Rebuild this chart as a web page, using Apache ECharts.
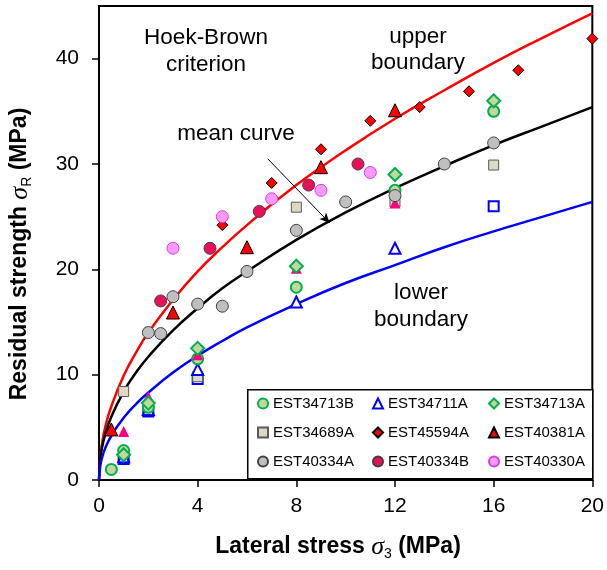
<!DOCTYPE html>
<html>
<head>
<meta charset="utf-8">
<script src="https://cdn.jsdelivr.net/npm/echarts@6/dist/echarts.min.js"></script>
<style>
  html, body { margin: 0; padding: 0; background: #fff; }
  #chart { width: 607px; height: 570px; }
</style>
</head>
<body>
<div id="chart"></div>
<script>
// Hoek-Brown boundary curves
const curveX = [0, 0.05, 0.1, 0.25, 0.5, 1, 1.5, 2, 3, 4, 5, 6, 8, 10, 12, 14, 16, 18, 20];
const upperY = [0, 2.2, 3.1, 5.0, 7.0, 9.9, 12.1, 14.0, 17.1, 19.8, 22.1, 24.2, 28.0, 31.3, 34.3, 37.0, 39.6, 42.0, 44.3];
const meanY  = [0, 2.0, 2.8, 4.3, 6.0, 8.4, 10.2, 11.7, 14.2, 16.3, 18.2, 19.8, 22.8, 25.4, 27.7, 29.8, 31.8, 33.6, 35.4];
const lowerY = [0, 1.3, 1.9, 3.0, 4.2, 5.9, 7.2, 8.3, 10.2, 11.8, 13.2, 14.5, 16.7, 18.7, 20.4, 22.1, 23.6, 25.0, 26.4];

// test series: lateral stress (x) and residual strength (y)
const est34713B_x = [0.5, 1, 2, 4, 8, 12, 16];
const est34713B_y = [1.0, 2.8, 6.9, 11.5, 18.3, 27.5, 35.0];
const est34711A_x = [1, 2, 4, 8, 12];
const est34711A_y = [2.2, 6.7, 10.5, 16.9, 22.0];
const est34713A_x = [1, 2, 4, 8, 12, 16];
const est34713A_y = [2.4, 7.3, 12.5, 20.3, 29.0, 36.0];
const est34689A_x = [1, 4, 8, 12, 16];
const est34689A_y = [8.4, 9.8, 25.9, 26.4, 29.9];
const est45594A_x = [5, 7, 9, 11, 13, 15, 17, 20];
const est45594A_y = [24.2, 28.2, 31.4, 34.1, 35.4, 36.9, 38.9, 41.9];
const est40381A_x = [0.5, 3, 6, 9, 12];
const est40381A_y = [4.8, 15.9, 22.1, 29.7, 35.1];
const est40334A_x = [2, 2.5, 3, 4, 5, 6, 8, 10, 12, 14, 16];
const est40334A_y = [14.0, 13.9, 17.4, 16.7, 16.5, 19.8, 23.7, 26.4, 27.0, 30.0, 32.0];
const est40334B_x = [2.5, 4.5, 6.5, 8.5, 10.5];
const est40334B_y = [17.0, 22.0, 25.5, 28.0, 30.0];
const est40330A_x = [3, 5, 7, 9, 11];
const est40330A_y = [22.0, 25.0, 26.7, 27.5, 29.2];
// unlabelled markers partly hidden behind others
const blueSquare_x = [1, 2, 4, 16];
const blueSquare_y = [2.0, 6.5, 9.6, 26.0];
const pinkTri_x = [1, 2, 4, 8, 12];
const pinkTri_y = [4.6, 7.9, 11.9, 20.1, 26.3];

const xTicks = [0, 4, 8, 12, 16, 20];
const yTicks = [0, 10, 20, 30, 40];

// "mean curve" arrow, in data units
const arrowFrom = [6.84, 30.5];
const arrowTo = [9.35, 24.4];

const FONT = '"Liberation Sans", Arial, sans-serif';
const SERIF = '"Liberation Serif", "Times New Roman", serif';

const zip = (xs, ys) => xs.map((x, i) => [x, ys[i]]);

const chart = echarts.init(document.getElementById('chart'));

function scatter(name, xs, ys, symbol, size, fill, border, bw) {
    return {
        name: name,
        type: 'scatter',
        data: zip(xs, ys),
        symbol: symbol,
        symbolSize: size,
        itemStyle: { color: fill, borderColor: border, borderWidth: bw, opacity: 1 },
        emphasis: { disabled: true }
    };
}

function curve(name, ys, color, extra) {
    return Object.assign({
        name: name,
        type: 'line',
        data: zip(curveX, ys),
        showSymbol: false,
        smooth: 0.5,
        lineStyle: { color: color, width: 2.5 },
        itemStyle: { color: color },
        emphasis: { disabled: true },
        z: 1
    }, extra || {});
}

const legendBase = {
    orient: 'vertical',
    top: 396,
    padding: 0,
    itemWidth: 10,
    itemHeight: 10,
    itemGap: 14,
    textStyle: { fontFamily: FONT, fontSize: 15, color: '#000' },
    z: 6
};

const titleRich = {
    b: { font: 'bold 23px ' + FONT, fill: '#000', lineHeight: 28 },
    s: { font: 'italic 26px ' + SERIF, fill: '#000', lineHeight: 28 },
    sub: { font: '14px ' + FONT, fill: '#000', verticalAlign: 'bottom', lineHeight: 28 }
};

const option = {
    animation: false,
    grid: {
        left: 99, right: 13, top: 6, bottom: 90,
        show: true, borderColor: '#000', borderWidth: 2
    },
    xAxis: {
        type: 'value',
        min: 0, max: 20, interval: 4,
        axisLine: { show: true, lineStyle: { color: '#000', width: 2 } },
        axisTick: { show: true, length: 7, lineStyle: { color: '#000', width: 1.5 }, customValues: xTicks },
        axisLabel: { fontFamily: FONT, fontSize: 21, color: '#000', margin: 16, customValues: xTicks },
        splitLine: { show: false }
    },
    yAxis: {
        type: 'value',
        min: 0, max: 45, interval: 10,
        axisLine: { show: true, lineStyle: { color: '#000', width: 2 } },
        axisTick: { show: true, length: 7, lineStyle: { color: '#000', width: 1.5 }, customValues: yTicks },
        axisLabel: { fontFamily: FONT, fontSize: 21, color: '#000', margin: 20, customValues: yTicks },
        splitLine: { show: false }
    },
    legend: [
        Object.assign({}, legendBase, { left: 257, data: ['EST34713B', 'EST34689A', 'EST40334A'] }),
        Object.assign({}, legendBase, { left: 372, data: ['EST34711A', 'EST45594A', 'EST40334B'] }),
        Object.assign({}, legendBase, { left: 488, data: ['EST34713A', 'EST40381A', 'EST40330A'] })
    ],
    graphic: [
        {
            type: 'rect', left: 247, top: 389, z: 5,
            shape: { width: 345, height: 89 },
            style: { fill: '#fff', stroke: '#000', lineWidth: 1.5 }
        },
        {
            type: 'text', x: 206, y: 51, z: 10,
            style: { text: 'Hoek-Brown\ncriterion', font: '22.5px ' + FONT, fill: '#000',
                     align: 'center', verticalAlign: 'middle', lineHeight: 27 }
        },
        {
            type: 'text', x: 418, y: 50, z: 10,
            style: { text: 'upper\nboundary', font: '22.5px ' + FONT, fill: '#000',
                     align: 'center', verticalAlign: 'middle', lineHeight: 26 }
        },
        {
            type: 'text', x: 236, y: 134, z: 10,
            style: { text: 'mean curve', font: '22.5px ' + FONT, fill: '#000',
                     align: 'center', verticalAlign: 'middle' }
        },
        {
            type: 'text', x: 421, y: 306, z: 10,
            style: { text: 'lower\nboundary', font: '22.5px ' + FONT, fill: '#000',
                     align: 'center', verticalAlign: 'middle', lineHeight: 27 }
        },
        {
            type: 'text', x: 338, y: 547, z: 10,
            style: {
                text: '{b|Lateral stress }{s|σ}{sub|3}{b| (MPa)}',
                align: 'center', verticalAlign: 'middle', rich: titleRich
            }
        },
        {
            type: 'text', x: 20, y: 254, z: 10, rotation: Math.PI / 2,
            style: {
                text: '{b|Residual strength }{s|σ}{sub|R}{b| (MPa)}',
                align: 'center', verticalAlign: 'middle', rich: titleRich
            }
        }
    ],
    series: [
        curve('upper', upperY, '#ff0000'),
        curve('mean', meanY, '#000000', {
            markLine: {
                silent: true,
                symbol: ['none', 'arrow'],
                symbolSize: [7, 10],
                label: { show: false },
                lineStyle: { color: '#000', width: 1, type: 'solid' },
                data: [[{ coord: arrowFrom }, { coord: arrowTo }]]
            }
        }),
        curve('lower', lowerY, '#0000ff'),
        scatter('blueSquare', blueSquare_x, blueSquare_y, 'rect', 10, '#ffffff', '#0000ff', 2),
        scatter('EST34689A', est34689A_x, est34689A_y, 'rect', 10, '#ddd9c4', '#595959', 1),
        scatter('EST34711A', est34711A_x, est34711A_y, 'triangle', 11, '#ffffff', '#0000ff', 2),
        scatter('EST34713B', est34713B_x, est34713B_y, 'circle', 11, '#c4d79b', '#00b050', 2),
        scatter('pinkTri', pinkTri_x, pinkTri_y, 'triangle', 11, '#ff0080', '#ff0080', 0),
        scatter('EST34713A', est34713A_x, est34713A_y, 'diamond', 13, '#c4d79b', '#00b050', 2),
        scatter('EST40334A', est40334A_x, est40334A_y, 'circle', 12, '#bfbfbf', '#404040', 1),
        scatter('EST45594A', est45594A_x, est45594A_y, 'diamond', 11, '#ff0000', '#000000', 1),
        scatter('EST40381A', est40381A_x, est40381A_y, 'triangle', 13, '#ff0000', '#000000', 1),
        scatter('EST40334B', est40334B_x, est40334B_y, 'circle', 12, '#e8105a', '#404040', 1),
        scatter('EST40330A', est40330A_x, est40330A_y, 'circle', 12, '#ff99ff', '#d040e0', 1)
    ]
};

chart.setOption(option);
</script>
</body>
</html>
